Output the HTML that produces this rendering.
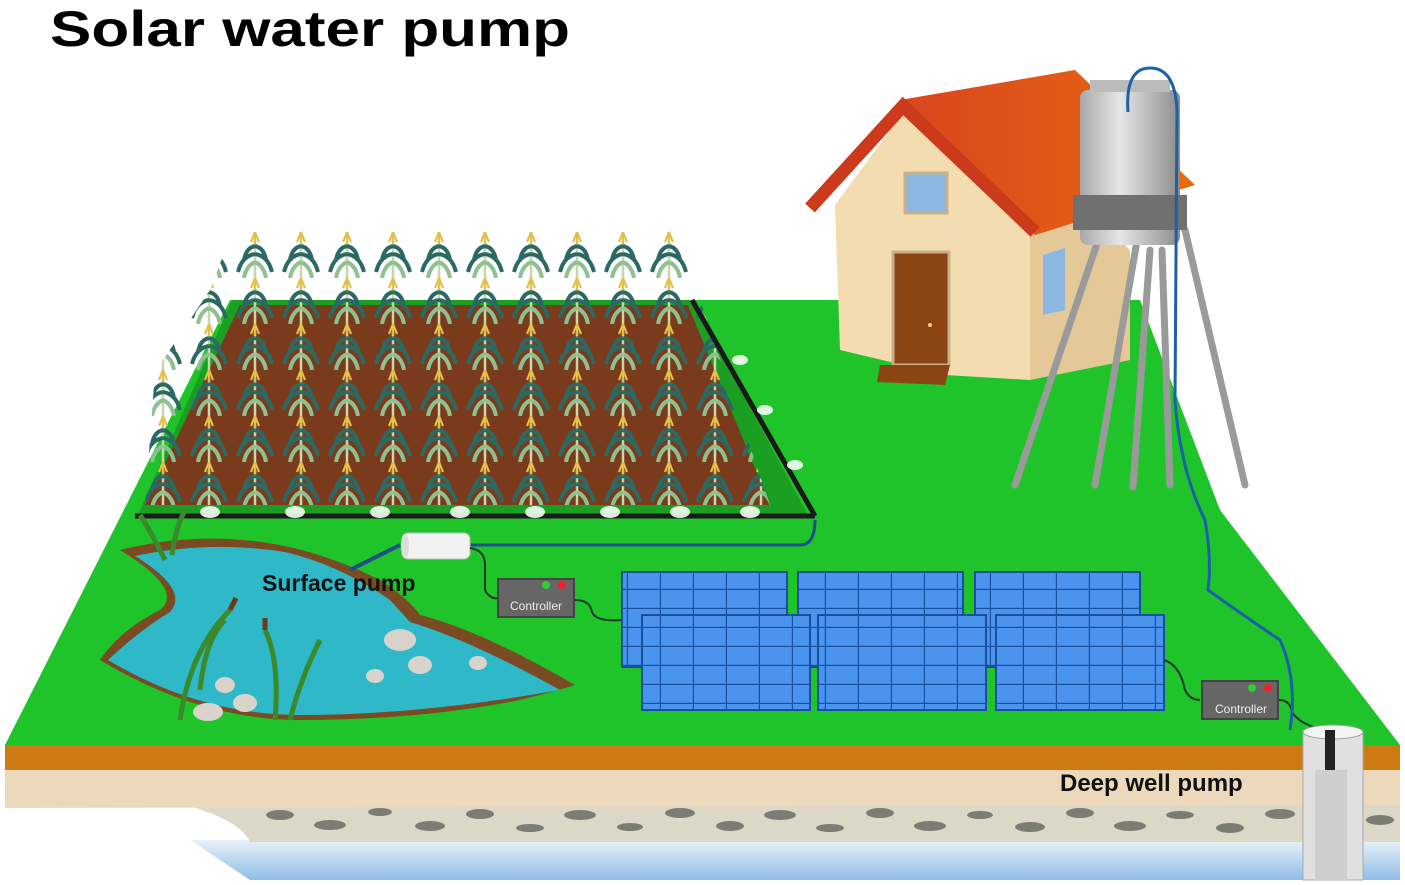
<!DOCTYPE html>
<html><head><meta charset="utf-8"><style>html,body{margin:0;padding:0;background:#fff}svg{display:block}</style></head>
<body>
<svg width="1405" height="885" viewBox="0 0 1405 885" xmlns="http://www.w3.org/2000/svg">
<defs>
<pattern id="corn" x="140" y="232" width="46" height="46" patternUnits="userSpaceOnUse">
<path d="M23 8 L23 46" stroke="#c9d6a8" stroke-width="2.5"/>
<path d="M23 22 Q10 24 6 40 M23 22 Q36 24 40 40 M23 14 Q14 16 12 28 M23 14 Q32 16 34 28" stroke="#2b6a62" stroke-width="4" fill="none"/>
<path d="M23 30 Q14 34 12 46 M23 30 Q32 34 34 46" stroke="#8fc092" stroke-width="4" fill="none"/>
<path d="M23 0 L19 10 M23 0 L27 10 M23 0 L23 12" stroke="#e3c04a" stroke-width="2.2"/>
</pattern>
<pattern id="cells" width="33" height="19" patternUnits="userSpaceOnUse">
<rect width="33" height="19" fill="#3d86e6"/><rect x="1" y="1" width="31" height="17" fill="#4a94ee"/>
<path d="M0 0H33M0 0V19" stroke="#1a4fa0" stroke-width="2"/>
</pattern>
<linearGradient id="tank" x1="0" x2="1"><stop offset="0" stop-color="#a8a8a8"/><stop offset="0.4" stop-color="#e6e6e6"/><stop offset="1" stop-color="#8c8c8c"/></linearGradient>
<linearGradient id="water" x1="0" x2="0" y1="0" y2="1"><stop offset="0" stop-color="#e9f2f8"/><stop offset="1" stop-color="#8fbde6"/></linearGradient>
<linearGradient id="roof" x1="0" x2="1"><stop offset="0" stop-color="#d9451e"/><stop offset="1" stop-color="#e86a10"/></linearGradient>
</defs>
<rect width="1405" height="885" fill="#fff"/>
<path d="M190 840 L1400 840 L1400 880 L250 880 Z" fill="url(#water)"/>
<path d="M185 800 L1400 800 L1400 842 L250 842 Q240 820 185 805 Z" fill="#dcd8c8"/>
<g fill="#7c7c74">
<ellipse cx="280" cy="815" rx="14" ry="5"/><ellipse cx="330" cy="825" rx="16" ry="5"/><ellipse cx="380" cy="812" rx="12" ry="4"/><ellipse cx="430" cy="826" rx="15" ry="5"/><ellipse cx="480" cy="814" rx="14" ry="5"/><ellipse cx="530" cy="828" rx="14" ry="4"/><ellipse cx="580" cy="815" rx="16" ry="5"/><ellipse cx="630" cy="827" rx="13" ry="4"/><ellipse cx="680" cy="813" rx="15" ry="5"/><ellipse cx="730" cy="826" rx="14" ry="5"/><ellipse cx="780" cy="815" rx="16" ry="5"/><ellipse cx="830" cy="828" rx="14" ry="4"/><ellipse cx="880" cy="813" rx="14" ry="5"/><ellipse cx="930" cy="826" rx="16" ry="5"/><ellipse cx="980" cy="815" rx="13" ry="4"/><ellipse cx="1030" cy="827" rx="15" ry="5"/><ellipse cx="1080" cy="813" rx="14" ry="5"/><ellipse cx="1130" cy="826" rx="16" ry="5"/><ellipse cx="1180" cy="815" rx="14" ry="4"/><ellipse cx="1230" cy="828" rx="14" ry="5"/><ellipse cx="1280" cy="814" rx="15" ry="5"/><ellipse cx="1380" cy="820" rx="14" ry="5"/>
</g>
<path d="M5 768 L1400 768 L1400 805 L5 808 Z" fill="#ecd9bc"/>
<path d="M5 745 L1400 745 L1400 770 L5 770 Z" fill="#cd7a12"/>
<path d="M230 300 L1140 300 L1220 510 L1400 745 L5 745 Z" fill="#1fc42a"/>
<path d="M232 300 L692 300 L808 515 L138 515 Z" fill="#1b9f22"/>
<path d="M240 305 L688 305 L770 505 L145 505 Z" fill="#7a3b1c"/>
<path d="M232 232 L680 232 L700 300 L770 505 L145 505 L155 372 L210 290 Z" fill="url(#corn)"/>
<path d="M135 516 L815 516 M692 300 L815 516" stroke="#1a1a1a" stroke-width="5" fill="none"/>
<g fill="#f4fff4" opacity="0.9">
<ellipse cx="210" cy="512" rx="10" ry="6"/><ellipse cx="295" cy="512" rx="10" ry="6"/><ellipse cx="380" cy="512" rx="10" ry="6"/><ellipse cx="460" cy="512" rx="10" ry="6"/><ellipse cx="535" cy="512" rx="10" ry="6"/><ellipse cx="610" cy="512" rx="10" ry="6"/><ellipse cx="680" cy="512" rx="10" ry="6"/><ellipse cx="750" cy="512" rx="10" ry="6"/>
<ellipse cx="740" cy="360" rx="8" ry="5"/><ellipse cx="765" cy="410" rx="8" ry="5"/><ellipse cx="795" cy="465" rx="8" ry="5"/>
</g>
<path d="M470 545 L800 545 Q815 545 815 520" stroke="#1f4f8a" stroke-width="3" fill="none"/>
<path d="M120 550 Q200 530 280 545 Q330 555 380 580 Q410 600 420 615 Q480 630 575 685 Q560 690 520 700 Q420 720 300 720 Q200 720 100 660 Q120 630 160 610 Q185 590 120 550 Z" fill="#7a4a22"/>
<path d="M135 556 Q210 540 285 552 Q340 565 390 600 L410 622 Q470 640 560 690 Q420 715 300 715 Q200 715 108 660 Q140 630 170 612 Q190 590 135 556 Z" fill="#2eb8c8"/>
<g fill="#d8d4cc"><ellipse cx="400" cy="640" rx="16" ry="11"/><ellipse cx="420" cy="665" rx="12" ry="9"/><ellipse cx="375" cy="676" rx="9" ry="7"/><ellipse cx="478" cy="663" rx="9" ry="7"/><ellipse cx="225" cy="685" rx="10" ry="8"/><ellipse cx="245" cy="703" rx="12" ry="9"/><ellipse cx="208" cy="712" rx="15" ry="9"/></g>
<g stroke="#3a8a2a" stroke-width="5" fill="none"><path d="M180 720 Q190 650 230 610"/><path d="M275 720 Q280 660 265 630"/><path d="M290 720 Q300 680 320 640"/><path d="M165 560 Q150 530 140 515"/><path d="M172 555 Q175 530 185 510"/><path d="M200 690 Q205 640 225 620"/></g>
<g stroke="#6b3a1a" stroke-width="5"><path d="M230 610 L236 598"/><path d="M265 630 L265 618"/></g>
<path d="M350 570 Q370 560 400 545" stroke="#1f4f8a" stroke-width="4" fill="none"/>
<rect x="402" y="533" width="68" height="26" rx="6" fill="#f2f2f2" stroke="#bbb"/>
<ellipse cx="405" cy="546" rx="4" ry="12" fill="#ddd"/>
<path d="M470 548 Q485 550 485 565 L485 590 Q490 600 500 598" stroke="#1a3a2a" stroke-width="2" fill="none"/>
<text x="262" y="591" font-family="Liberation Sans, sans-serif" font-weight="bold" font-size="23" fill="#111">Surface pump</text>
<rect x="497" y="578" width="78" height="40" fill="#444"/><rect x="499" y="580" width="74" height="36" fill="#666"/>
<circle cx="546" cy="585" r="4" fill="#3c3"/><circle cx="562" cy="585" r="4" fill="#e22"/>
<text x="536" y="610" font-family="Liberation Sans, sans-serif" font-size="12" fill="#eee" text-anchor="middle">Controller</text>
<path d="M575 600 Q590 600 592 612 Q596 622 622 620" stroke="#1a3a2a" stroke-width="2" fill="none"/>
<g stroke="#1a4fa0" stroke-width="2">
<rect x="622" y="572" width="165" height="95" fill="url(#cells)"/>
<rect x="798" y="572" width="165" height="95" fill="url(#cells)"/>
<rect x="975" y="572" width="165" height="95" fill="url(#cells)"/>
<rect x="642" y="615" width="168" height="95" fill="url(#cells)"/>
<rect x="818" y="615" width="168" height="95" fill="url(#cells)"/>
<rect x="996" y="615" width="168" height="95" fill="url(#cells)"/>
</g>
<path d="M1164 660 Q1180 665 1185 690 Q1190 700 1200 700" stroke="#1a3a2a" stroke-width="2" fill="none"/>
<rect x="1201" y="680" width="78" height="40" fill="#444"/><rect x="1203" y="682" width="74" height="36" fill="#666"/>
<circle cx="1252" cy="688" r="4" fill="#3c3"/><circle cx="1268" cy="688" r="4" fill="#e22"/>
<text x="1241" y="713" font-family="Liberation Sans, sans-serif" font-size="12" fill="#eee" text-anchor="middle">Controller</text>
<path d="M1279 700 Q1290 700 1292 712 Q1300 725 1325 730" stroke="#1a3a2a" stroke-width="2" fill="none"/>
<!-- house -->
<path d="M835 205 L905 110 L1030 220 L1030 380 L945 375 L840 350 Z" fill="#f3dcb0"/>
<path d="M1030 220 L1090 210 L1130 250 L1130 360 L1030 380 Z" fill="#e4c898"/>
<path d="M900 100 L1075 70 L1195 185 L1035 235 Z" fill="url(#roof)"/>
<path d="M810 208 L903 106 L1035 232" stroke="#cc3a1c" stroke-width="13" fill="none" stroke-linejoin="miter"/>
<rect x="905" y="173" width="42" height="40" fill="#8ab8e0" stroke="#c9b08a" stroke-width="3"/>
<rect x="893" y="252" width="56" height="113" fill="#8b4513" stroke="#c9b08a" stroke-width="3"/>
<circle cx="930" cy="325" r="2" fill="#f4d070"/>
<path d="M880 365 L950 365 L945 385 L877 382 Z" fill="#8b4513"/>
<path d="M1043 255 L1065 248 L1065 310 L1043 315 Z" fill="#8ab8e0"/>
<!-- water tower -->
<g stroke="#9a9a9a" stroke-width="7" stroke-linecap="round">
<path d="M1100 235 L1015 485"/><path d="M1138 235 L1095 485"/><path d="M1150 250 L1133 487"/><path d="M1162 250 L1170 485"/><path d="M1185 230 L1245 485"/>
</g>
<rect x="1080" y="90" width="100" height="155" rx="8" fill="url(#tank)"/>
<rect x="1073" y="195" width="114" height="35" fill="#707070"/>
<rect x="1090" y="80" width="80" height="12" fill="#bbb"/>
<path d="M1128 112 Q1125 68 1150 68 Q1175 68 1177 110 L1175 400 Q1180 470 1205 520 Q1212 560 1208 590 Q1250 620 1280 640 Q1298 680 1290 730" stroke="#1d5fa8" stroke-width="3" fill="none"/>
<rect x="1303" y="730" width="60" height="150" fill="#e0e0e0" stroke="#aaa"/>
<ellipse cx="1333" cy="732" rx="30" ry="7" fill="#f4f4f4" stroke="#999"/>
<rect x="1325" y="730" width="10" height="40" fill="#222"/>
<rect x="1315" y="770" width="32" height="110" fill="#cfcfcf"/>
<text x="1060" y="791" font-family="Liberation Sans, sans-serif" font-weight="bold" font-size="24" fill="#111">Deep well pump</text>
<text x="50" y="46" font-family="Liberation Sans, sans-serif" font-weight="bold" font-size="50" fill="#000" textLength="520" lengthAdjust="spacingAndGlyphs">Solar water pump</text>
</svg>
</body></html>
